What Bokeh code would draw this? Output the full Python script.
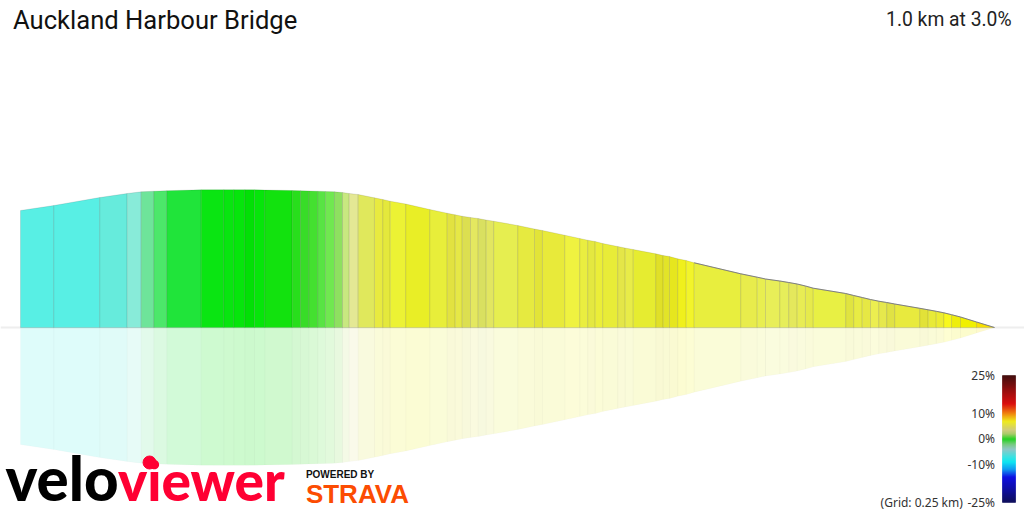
from bokeh.plotting import figure
from bokeh.models import Range1d, Span
from bokeh.core.properties import value
from bokeh.embed import file_html
from bokeh.resources import INLINE
import numpy as np

# --- data ---
title_text = "Auckland Harbour Bridge"
summary_text = "1.0 km at 3.0%"
grid_text = "(Grid: 0.25 km)"

# distance along the climb (m) at each segment boundary
distance_m = [0, 34.2, 81.4, 109.5, 123.9, 136.9, 150.2, 185.5, 208.7, 219.0, 230.3, 240.2, 250.8, 278.9,
              287.5, 296.0, 305.2, 313.1, 322.4, 330.6, 337.5, 346.7, 363.4, 372.0, 379.6, 395.6, 420.2,
              438.1, 446.3, 453.5, 462.0, 469.9, 478.1, 485.9, 510.6, 527.7, 535.9, 558.8, 574.2, 582.4,
              590.0, 597.8, 613.2, 620.8, 629.1, 652.3, 659.8, 666.3, 674.8, 683.5, 691.7, 739.5, 756.4,
              764.9, 779.6, 788.8, 797.4, 805.9, 813.9, 847.3, 855.5, 864.2, 872.7, 881.2, 889.4, 897.6,
              923.3, 931.9, 940.2, 948.0, 955.9, 965.1, 981.6, 1000.0]
# profile height above the baseline at each boundary
height = [117, 122, 130, 134, 135.7, 136.3, 136.8, 137.7, 137.8, 137.8, 137.8, 137.7, 137.5, 137,
          136.8, 136.6, 136.3, 136, 135.7, 135, 134, 133, 129.7, 128, 126.3, 123.5, 118,
          114.3, 112.7, 111.3, 110, 109, 107.5, 106.3, 102, 98.5, 97, 92.3, 89, 87.3,
          86, 84, 81, 79.5, 78, 73.7, 72, 71, 68.7, 67, 64.7, 53.7, 50.3,
          48.5, 46.5, 45, 43.5, 41.5, 39.3, 34, 32, 30, 28, 26.3, 25, 23.5,
          19.2, 17.7, 16.2, 14.7, 12.8, 10.5, 5.5, 0]
segment_colors = ["#58efe4", "#58efe4", "#66ebdc", "#88ebd9", "#6ee49a", "#4ce76a", "#20e43a", "#0ae512",
                  "#08e510", "#06e50c", "#02e006", "#06e50a", "#12e20e", "#28de1c", "#38dc28", "#44e030",
                  "#58e444", "#70e850", "#8ee060", "#c8e880", "#e4e894", "#e0e85c", "#e8ea40", "#e4e83c",
                  "#ecf234", "#e9ee26", "#e8ee3a", "#e2e240", "#e6e846", "#dcdf50", "#e4e860", "#d9e060",
                  "#e2e660", "#e6ee50", "#e6ea40", "#e2e438", "#e8ea3a", "#eff240", "#eaee40", "#e4e840",
                  "#ebee38", "#e8ec38", "#e4e648", "#e8ec48", "#e6ec30", "#e0e028", "#e2e428", "#e6e61e",
                  "#f0f01c", "#f2f42a", "#e8ee3e", "#e8ec4c", "#e8ee50", "#e8ee58", "#e6ee5a", "#e4e85c",
                  "#e8ec54", "#e6ea4c", "#e8f044", "#e0e440", "#e8ec44", "#e6e844", "#ecee50", "#e6e84c",
                  "#e0e244", "#e8ea3e", "#e2e238", "#e8ea38", "#ecec30", "#f8f81c", "#eeee0c", "#f0f000",
                  "#f8e000"]
assert len(distance_m) == len(height) == len(segment_colors) + 1

# gradient legend
legend_ticks = [25, 10, 0, -10, -25]
legend_labels = ["25%", "10%", "0%", "-10%", "-25%"]
legend_stops = [25, 18, 14, 10, 7, 3.5, 2, 0, -2, -4, -7, -9, -12, -15, -20, -25]
legend_colors = ["#3a0000", "#a00000", "#d80000", "#f08000", "#eeea10", "#ccc878", "#a0c860", "#18d018",
                 "#70c878", "#88c4c4", "#30e0e0", "#00e4f0", "#0090f0", "#0000e0", "#000098", "#000050"]

# --- figure ---
p = figure(width=1024, height=512, output_backend="svg", toolbar_location=None, min_border=0,
           x_range=Range1d(-20.53, 1030.8), y_range=Range1d(-185, 327))
p.xaxis.visible = False
p.yaxis.visible = False
p.grid.visible = False
p.outline_line_color = None
p.background_fill_color = "white"
p.border_fill_color = "white"

p.extra_y_ranges = {"pct": Range1d(-28.94, 172.64)}

p.add_layout(Span(location=0, dimension="width", line_color="#eeeeee", line_width=2, level="underlay"))

xs = [[distance_m[i], distance_m[i], distance_m[i + 1], distance_m[i + 1]] for i in range(len(segment_colors))]
ys_up = [[0, height[i], height[i + 1], 0] for i in range(len(segment_colors))]
ys_dn = [[-v for v in r] for r in ys_up]

p.patches(xs, ys_dn, fill_color=segment_colors, fill_alpha=0.2, line_color="#000000", line_alpha=0.015)
p.patches(xs, ys_up, fill_color=segment_colors, fill_alpha=1.0, line_color="#000000", line_alpha=0.1, line_width=1)

tail = distance_m.index(691.7)
p.line(distance_m[tail:], height[tail:], line_color="#808080", line_width=1)

# gradient bar
rows = np.linspace(25, -25, 128)
stop_rgb = np.array([[int(c[k:k + 2], 16) for k in (1, 3, 5)] for c in legend_colors], float)
bar_colors = ["#%02x%02x%02x" % tuple(int(np.interp(-v, -np.array(legend_stops), stop_rgb[:, j])) for j in range(3))
              for v in rows]
BAR_L, BAR_R = 1008.2, 1021.6
p.quad(left=BAR_L, right=BAR_R, top=rows[:-1], bottom=rows[1:], fill_color=bar_colors[:-1],
       line_color=bar_colors[:-1], line_width=0.5, y_range_name="pct")

LABEL_R = 1000.5
p.text([LABEL_R] * len(legend_ticks), legend_ticks, text=legend_labels, y_range_name="pct", text_align="right",
       text_baseline="middle", text_font=value("Noto Sans"), text_font_size="12px", text_color="#333333")
p.text([LABEL_R - 33], [-25], text=[grid_text], y_range_name="pct", text_align="right",
       text_baseline="middle", text_font=value("Noto Sans"), text_font_size="12px", text_color="#333333")

# title texts
p.text([-7.7], [308], text=[title_text], text_font=value("Roboto"), text_font_size="25.6px", text_color="#111111",
       text_baseline="middle")
p.text([1017.5], [308], text=[summary_text], text_font=value("Roboto"), text_font_size="19.3px", text_color="#222222",
       text_align="right", text_baseline="middle")

# logos
LOGO_FONT = value("Lato Black, Lato, Liberation Sans")
p.text([-15.4], [-150], text=["velo"], text_font=LOGO_FONT, text_font_style="bold",
       text_font_size="60px", text_color="#000000", text_baseline="middle")
p.text([100], [-152.5], text=["viewer"], text_font=LOGO_FONT, text_font_style="bold",
       text_font_size="55px", text_color="#ff0033", text_baseline="middle")
p.scatter([132.5], [-135], size=13, color="#ff0033", marker="circle")
p.text([293], [-146.5], text=["POWERED BY"], text_font=value("Liberation Sans"), text_font_style="bold",
       text_font_size="10px", text_color="#111111", text_baseline="middle")
p.text([293], [-166.5], text=["STRAVA"], text_font=value("Liberation Sans"), text_font_style="bold",
       text_font_size="26px", text_color="#fc4c02", text_baseline="middle")

open("out.html", "w").write(file_html(p, INLINE))
